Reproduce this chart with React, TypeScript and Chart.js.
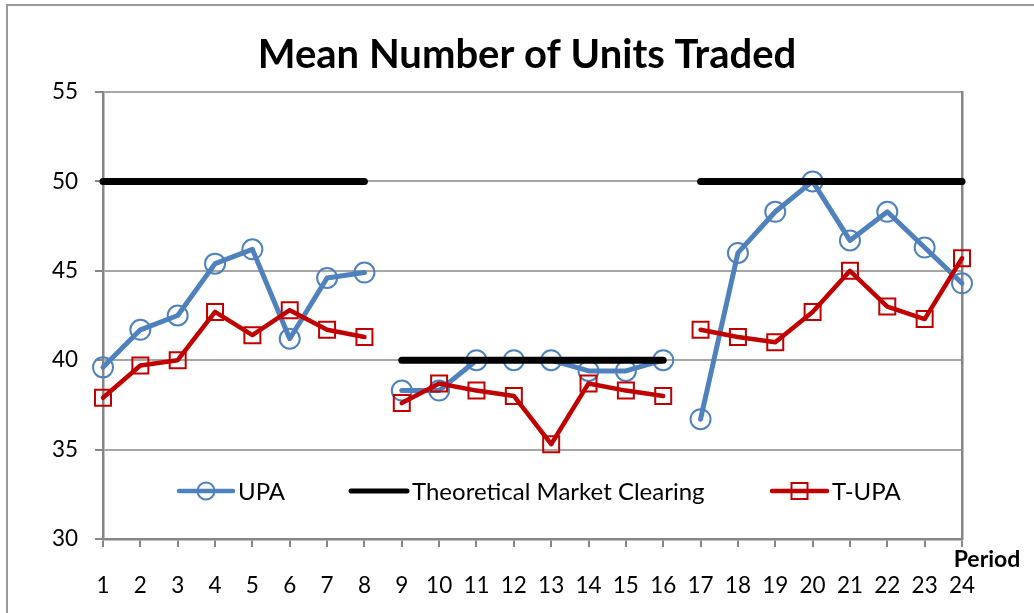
import React, { useEffect, useRef } from "react";
import { Chart, registerables } from "chart.js";

Chart.register(...registerables);

const periods = ["1","2","3","4","5","6","7","8","9","10","11","12","13","14","15","16","17","18","19","20","21","22","23","24"];
const upa = [39.6, 41.7, 42.5, 45.4, 46.2, 41.2, 44.6, 44.9, 38.3, 38.3, 40.0, 40.0, 40.0, 39.4, 39.4, 40.0, 36.7, 46.0, 48.3, 50.0, 46.7, 48.3, 46.3, 44.3];
const theoretical = [50, 50, 50, 50, 50, 50, 50, 50, 40, 40, 40, 40, 40, 40, 40, 40, 50, 50, 50, 50, 50, 50, 50, 50];
const tupa = [37.9, 39.7, 40.0, 42.7, 41.4, 42.8, 41.7, 41.3, 37.6, 38.7, 38.3, 38.0, 35.3, 38.7, 38.3, 38.0, 41.7, 41.3, 41.0, 42.7, 45.0, 43.0, 42.3, 45.7];
const segmentBreaks = [7, 15];
const titleText = "Mean Number of Units Traded";
const xAxisTitle = "Period";
const seriesNames = ["UPA", "Theoretical Market Clearing", "T-UPA"];

const FONT = "Lato";
const BLUE = "#4F81BD";
const RED = "#C00000";
const AXIS = "#868686";
const GRID = "#a6a6a6";

const breakColor = (color: string) => (c: any) =>
  segmentBreaks.includes(c.p0DataIndex) ? "rgba(0,0,0,0)" : color;

const decorPlugin = {
  id: "decor",
  beforeDraw(chart: any) {
    const ctx = chart.ctx;
    ctx.save();
    ctx.strokeStyle = "#9a9a9a";
    ctx.lineWidth = 2;
    ctx.beginPath();
    ctx.moveTo(7, 620);
    ctx.lineTo(7, 5);
    ctx.lineTo(1040, 5);
    ctx.stroke();
    ctx.restore();
  },
  afterDraw(chart: any) {
    const ctx = chart.ctx;
    const area = chart.chartArea;
    ctx.save();
    // axis title "Period"
    ctx.fillStyle = "#000";
    ctx.font = `bold 23px ${FONT}`;
    ctx.textAlign = "center";
    ctx.textBaseline = "middle";
    ctx.fillText(xAxisTitle, area.right + 25, area.bottom + 21);

    // legend inside plot area
    const ly = area.bottom - 48;
    const items = [
      { x0: area.left + 76, x1: area.left + 130, ds: 0 },
      { x0: area.left + 248, x1: area.left + 304, ds: 1 },
      { x0: area.left + 669, x1: area.left + 724, ds: 2 },
    ];
    items.forEach((it) => {
      const ds = chart.data.datasets[it.ds];
      ctx.strokeStyle = ds.borderColor;
      ctx.lineWidth = it.ds === 1 ? 5 : 4.5;
      ctx.lineCap = "round";
      ctx.beginPath();
      ctx.moveTo(it.x0, ly);
      ctx.lineTo(it.x1, ly);
      ctx.stroke();
      const cx = (it.x0 + it.x1) / 2;
      if (ds.pointStyle === "circle") {
        ctx.lineWidth = 2;
        ctx.strokeStyle = ds.pointBorderColor;
        ctx.beginPath();
        ctx.arc(cx, ly, 8.5, 0, Math.PI * 2);
        ctx.stroke();
      } else if (ds.pointStyle === "rect") {
        ctx.lineWidth = 2;
        ctx.strokeStyle = ds.pointBorderColor;
        ctx.strokeRect(cx - 8, ly - 8, 16, 16);
      }
      ctx.fillStyle = "#000";
      ctx.font = `24px ${FONT}`;
      ctx.textAlign = "left";
      ctx.textBaseline = "middle";
      ctx.fillText(ds.label, it.x1 + 5, ly + 1);
    });
    ctx.restore();
  },
};

export default function App() {
  const ref = useRef<HTMLCanvasElement | null>(null);
  useEffect(() => {
    if (!ref.current) return;
    const chart = new Chart(ref.current, {
      type: "line",
      data: {
        labels: periods,
        datasets: [
          {
            label: seriesNames[0],
            data: upa,
            borderColor: BLUE,
            borderWidth: 5,
            pointStyle: "circle",
            pointRadius: 10,
            pointBorderWidth: 2,
            pointBorderColor: BLUE,
            pointBackgroundColor: "rgba(0,0,0,0)",
            borderJoinStyle: "round",
            borderCapStyle: "round",
            tension: 0,
            clip: false,
            order: 2,
            segment: { borderColor: breakColor(BLUE) },
          },
          {
            label: seriesNames[1],
            data: theoretical,
            borderColor: "#000",
            borderWidth: 7,
            borderCapStyle: "round",
            pointRadius: 0,
            pointStyle: "line",
            tension: 0,
            clip: false,
            order: 1,
            segment: { borderColor: breakColor("#000") },
          },
          {
            label: seriesNames[2],
            data: tupa,
            borderColor: RED,
            borderWidth: 4.5,
            pointStyle: "rect",
            pointRadius: 11.3,
            pointBorderWidth: 2,
            pointBorderColor: RED,
            pointBackgroundColor: "rgba(0,0,0,0)",
            borderJoinStyle: "round",
            borderCapStyle: "round",
            tension: 0,
            clip: false,
            order: 0,
            segment: { borderColor: breakColor(RED) },
          },
        ],
      },
      options: {
        responsive: false,
        animation: false,
        devicePixelRatio: 1,
        layout: { padding: { left: 20, right: 0, top: 0, bottom: 0 } },
        plugins: {
          legend: { display: false },
          tooltip: { enabled: false },
          title: {
            display: true,
            text: titleText,
            color: "#000",
            font: { family: FONT, size: 40, weight: "bold", lineHeight: 1.2 },
            padding: { top: 31, bottom: 13 },
          },
        },
        scales: {
          x: {
            type: "category",
            offset: false,
            grid: { display: true, drawOnChartArea: false, drawTicks: true, tickLength: 8, color: AXIS, lineWidth: 2 },
            border: { display: true, color: AXIS, width: 2.5 },
            ticks: { color: "#000", font: { family: FONT, size: 22.5 }, padding: 25, maxRotation: 0, autoSkip: false },
            afterFit: (axis: any) => { axis.height = 74; },
          },
          y: {
            min: 30,
            max: 55,
            ticks: { stepSize: 5, color: "#000", font: { family: FONT, size: 22.5 }, padding: 17 },
            grid: { color: GRID, lineWidth: 2, tickLength: 8, tickColor: AXIS },
            border: { display: true, color: AXIS, width: 2.5 },
            afterFit: (axis: any) => { axis.width = 83; },
          },
          y2: {
            position: "right",
            display: true,
            min: 30,
            max: 55,
            grid: { display: false },
            ticks: { display: false },
            border: { display: true, color: AXIS, width: 2.5 },
            afterFit: (axis: any) => { axis.width = 72; },
          },
        },
      },
      plugins: [decorPlugin],
    } as any);
    return () => chart.destroy();
  }, []);
  return (
    <div style={{ position: "absolute", left: 0, top: 0, width: 1034, height: 613, background: "#fff" }}>
      <canvas ref={ref} width={1034} height={613} style={{ display: "block", width: 1034, height: 613 }} />
    </div>
  );
}
